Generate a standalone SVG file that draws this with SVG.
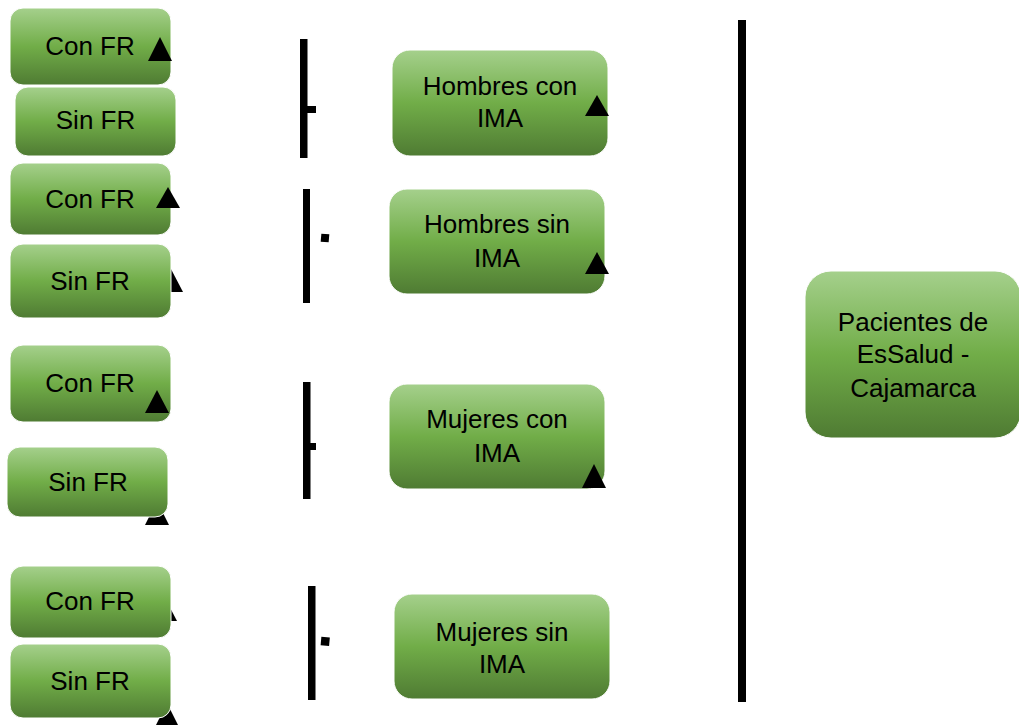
<svg xmlns="http://www.w3.org/2000/svg" width="1019" height="725" viewBox="0 0 1019 725">
<defs>
<linearGradient id="g" x1="0" y1="0" x2="0" y2="1">
<stop offset="0" stop-color="#a5d08c"/>
<stop offset="0.5" stop-color="#71ad48"/>
<stop offset="1" stop-color="#4f7b33"/>
</linearGradient>
<style>
.box{fill:url(#g);stroke:#ffffff;stroke-width:1}
.t{font-family:"Liberation Sans",Arial,sans-serif;font-size:26px;fill:#000;text-anchor:middle}
.bar{fill:#000}
.tri{fill:#000}
</style>
</defs>
<g id="connectors-under">
<polygon class="tri" points="171,269 159,292 183,292"/>
<polygon class="tri" points="157,501 145,525 169,525"/>
<polygon class="tri" points="165,598 153,621 177,621"/>
<polygon class="tri" points="167,703 155,727 179,727"/>
</g>
<g id="n1"><rect class="box" x="10" y="8" width="161" height="77" rx="13"/><text class="t" x="90" y="55">Con FR</text></g>
<g id="n2"><rect class="box" x="15" y="87" width="161" height="69" rx="13"/><text class="t" x="95.5" y="129">Sin FR</text></g>
<g id="n3"><rect class="box" x="10" y="163" width="161" height="72" rx="13"/><text class="t" x="90" y="208">Con FR</text></g>
<g id="n4"><rect class="box" x="10" y="244" width="161" height="74" rx="13"/><text class="t" x="90" y="290">Sin FR</text></g>
<g id="n5"><rect class="box" x="10" y="345" width="161" height="77" rx="13"/><text class="t" x="90" y="392">Con FR</text></g>
<g id="n6"><rect class="box" x="7" y="447" width="161" height="70" rx="13"/><text class="t" x="88" y="491">Sin FR</text></g>
<g id="n7"><rect class="box" x="10" y="566" width="161" height="72" rx="13"/><text class="t" x="90" y="610">Con FR</text></g>
<g id="n8"><rect class="box" x="10" y="644" width="161" height="74" rx="13"/><text class="t" x="90" y="690">Sin FR</text></g>
<g id="n9"><rect class="box" x="392" y="50" width="216" height="106" rx="18"/><text class="t" x="500" y="95">Hombres con</text><text class="t" x="500" y="127">IMA</text></g>
<g id="n10"><rect class="box" x="389" y="189" width="216" height="105" rx="18"/><text class="t" x="497" y="233">Hombres sin</text><text class="t" x="497" y="267">IMA</text></g>
<g id="n11"><rect class="box" x="389" y="384" width="216" height="105" rx="18"/><text class="t" x="497" y="428">Mujeres con</text><text class="t" x="497" y="462">IMA</text></g>
<g id="n12"><rect class="box" x="394" y="594" width="216" height="105" rx="18"/><text class="t" x="502" y="641">Mujeres sin</text><text class="t" x="502" y="673">IMA</text></g>
<g id="n13"><rect class="box" x="805" y="271" width="216" height="167" rx="26"/><text class="t" x="913" y="331">Pacientes de</text><text class="t" x="913" y="363">EsSalud -</text><text class="t" x="913" y="397">Cajamarca</text></g>
<g id="connectors">
<rect class="bar" x="300" y="39" width="7.5" height="119"/>
<rect class="bar" x="307" y="106" width="9" height="7"/>
<rect class="bar" x="303" y="189" width="7" height="114"/>
<rect class="bar" x="321" y="234" width="8" height="8" transform="rotate(5 325 238)"/>
<rect class="bar" x="303" y="382" width="7.5" height="117"/>
<rect class="bar" x="310" y="443" width="6" height="7"/>
<rect class="bar" x="308" y="586" width="7.5" height="114"/>
<rect class="bar" x="321" y="637" width="8.5" height="8.5" transform="rotate(5 325 641)"/>
<rect class="bar" x="738" y="20" width="8" height="682"/>
<polygon class="tri" points="160,37 148,61 172,61"/>
<polygon class="tri" points="168,187 156,208 180,208"/>
<polygon class="tri" points="157,390 145,413 169,413"/>
<polygon class="tri" points="597,95 585,116 609,116"/>
<polygon class="tri" points="597,252 585,274 609,274"/>
<polygon class="tri" points="594,464 582,488 606,488"/>
</g>
</svg>
